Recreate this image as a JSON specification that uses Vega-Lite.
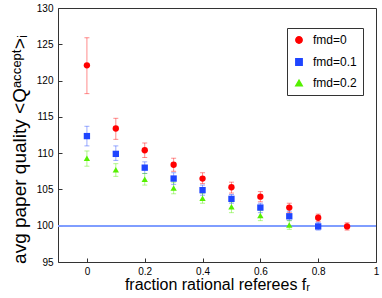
{
  "$schema": "https://vega.github.io/schema/vega-lite/v6.json",
  "width": 318,
  "height": 254,
  "autosize": {"type": "none"},
  "padding": {"left": 58, "top": 8, "right": 6, "bottom": 36},
  "background": "white",
  "config": {
    "view": {"stroke": "#333333", "strokeWidth": 1},
    "font": "Liberation Sans",
    "axis": {"grid": false, "domain": false, "tickColor": "#333333", "labelColor": "black", "titleColor": "black", "labelFont": "Liberation Sans", "titleFont": "Liberation Sans", "titleFontWeight": "normal", "labelOverlap": false, "labelFlush": false},
    "axisY": {"values": [95, 100, 105, 110, 115, 120, 125, 130], "tickSize": -4, "labelPadding": 9, "labelFontSize": 10, "titleFontSize": 19, "titlePadding": 7, "titleY": 141}
  },
  "data": {"values": [
    {"fr": 0.0, "s": "fmd=0", "q": 122.1, "lo": 118.2, "hi": 125.9},
    {"fr": 0.1, "s": "fmd=0", "q": 113.4, "lo": 111.9, "hi": 114.8},
    {"fr": 0.2, "s": "fmd=0", "q": 110.4, "lo": 109.4, "hi": 111.4},
    {"fr": 0.3, "s": "fmd=0", "q": 108.4, "lo": 107.5, "hi": 109.3},
    {"fr": 0.4, "s": "fmd=0", "q": 106.5, "lo": 105.8, "hi": 107.3},
    {"fr": 0.5, "s": "fmd=0", "q": 105.3, "lo": 104.5, "hi": 106.0},
    {"fr": 0.6, "s": "fmd=0", "q": 104.0, "lo": 103.3, "hi": 104.7},
    {"fr": 0.7, "s": "fmd=0", "q": 102.5, "lo": 101.8, "hi": 103.1},
    {"fr": 0.8, "s": "fmd=0", "q": 101.1, "lo": 100.6, "hi": 101.6},
    {"fr": 0.9, "s": "fmd=0", "q": 99.9, "lo": 99.4, "hi": 100.4},
    {"fr": 0.0, "s": "fmd=0.1", "q": 112.35, "lo": 111.0, "hi": 113.7},
    {"fr": 0.1, "s": "fmd=0.1", "q": 109.9, "lo": 109.0, "hi": 111.0},
    {"fr": 0.2, "s": "fmd=0.1", "q": 108.0, "lo": 107.2, "hi": 108.8},
    {"fr": 0.3, "s": "fmd=0.1", "q": 106.5, "lo": 105.7, "hi": 107.3},
    {"fr": 0.4, "s": "fmd=0.1", "q": 104.9, "lo": 104.2, "hi": 105.6},
    {"fr": 0.5, "s": "fmd=0.1", "q": 103.7, "lo": 103.1, "hi": 104.3},
    {"fr": 0.6, "s": "fmd=0.1", "q": 102.5, "lo": 101.8, "hi": 103.1},
    {"fr": 0.7, "s": "fmd=0.1", "q": 101.3, "lo": 100.7, "hi": 102.0},
    {"fr": 0.8, "s": "fmd=0.1", "q": 99.9, "lo": 99.4, "hi": 100.45},
    {"fr": 0.0, "s": "fmd=0.2", "q": 109.3, "lo": 108.2, "hi": 110.3},
    {"fr": 0.1, "s": "fmd=0.2", "q": 107.7, "lo": 106.8, "hi": 108.55},
    {"fr": 0.2, "s": "fmd=0.2", "q": 106.4, "lo": 105.6, "hi": 107.2},
    {"fr": 0.3, "s": "fmd=0.2", "q": 105.2, "lo": 104.4, "hi": 106.0},
    {"fr": 0.4, "s": "fmd=0.2", "q": 103.8, "lo": 103.1, "hi": 104.5},
    {"fr": 0.5, "s": "fmd=0.2", "q": 102.6, "lo": 101.8, "hi": 103.3},
    {"fr": 0.6, "s": "fmd=0.2", "q": 101.4, "lo": 100.7, "hi": 102.15},
    {"fr": 0.7, "s": "fmd=0.2", "q": 100.1, "lo": 99.5, "hi": 100.7}
  ]},
  "encoding": {
    "x": {"field": "fr", "type": "quantitative",
      "scale": {"domain": [-0.1, 1], "nice": false, "zero": false},
      "axis": {"values": [0, 0.2, 0.4, 0.6, 0.8, 1], "format": "~g", "tickSize": -4, "labelPadding": 8, "labelFontSize": 10, "labelOverlap": false, "title": "fraction rational referees fᵣ", "titleFontSize": 16, "titlePadding": 0}}
  },
  "layer": [
    {
      "mark": {"type": "rule", "color": "#7f9fff", "strokeWidth": 1},
      "encoding": {"x": null, "y": {"datum": 100, "type": "quantitative", "title": "avg paper quality <Qᵃᶜᶜᵉᵖᵗ>ᵢ", "scale": {"domain": [95, 130], "nice": false, "zero": false}}}
    },
    {
      "mark": {"type": "rule", "opacity": 0.45, "strokeWidth": 1},
      "encoding": {
        "y": {"field": "lo", "type": "quantitative", "title": "avg paper quality <Qᵃᶜᶜᵉᵖᵗ>ᵢ"},
        "y2": {"field": "hi"},
        "color": {"field": "s", "type": "nominal"}
      }
    },
    {
      "mark": {"type": "tick", "orient": "horizontal", "opacity": 0.45, "size": 5, "thickness": 1},
      "encoding": {"y": {"field": "lo", "type": "quantitative", "title": "avg paper quality <Qᵃᶜᶜᵉᵖᵗ>ᵢ"}, "color": {"field": "s", "type": "nominal"}}
    },
    {
      "mark": {"type": "tick", "orient": "horizontal", "opacity": 0.45, "size": 5, "thickness": 1},
      "encoding": {"y": {"field": "hi", "type": "quantitative", "title": "avg paper quality <Qᵃᶜᶜᵉᵖᵗ>ᵢ"}, "color": {"field": "s", "type": "nominal"}}
    },
    {
      "mark": {"type": "point", "filled": true, "opacity": 1, "size": 40},
      "encoding": {
        "y": {"field": "q", "type": "quantitative", "title": "avg paper quality <Qᵃᶜᶜᵉᵖᵗ>ᵢ"},
        "color": {"field": "s", "type": "nominal",
          "scale": {"domain": ["fmd=0", "fmd=0.1", "fmd=0.2"], "range": ["#ff0000", "#1f45ff", "#55f000"]},
          "legend": {"title": null, "orient": "none", "legendX": 229, "legendY": 20, "strokeColor": "#333333", "fillColor": "white", "padding": 6, "labelFontSize": 12, "rowPadding": 8, "symbolSize": 40, "symbolOpacity": 1, "labelOffset": 8, "labelColor": "black",
            "encode": {"symbols": {"update": {"opacity": {"value": 1}, "fillOpacity": {"value": 1}}}}}},
        "shape": {"field": "s", "type": "nominal",
          "scale": {"domain": ["fmd=0", "fmd=0.1", "fmd=0.2"], "range": ["circle", "square", "triangle-up"]}}
      }
    }
  ]
}
